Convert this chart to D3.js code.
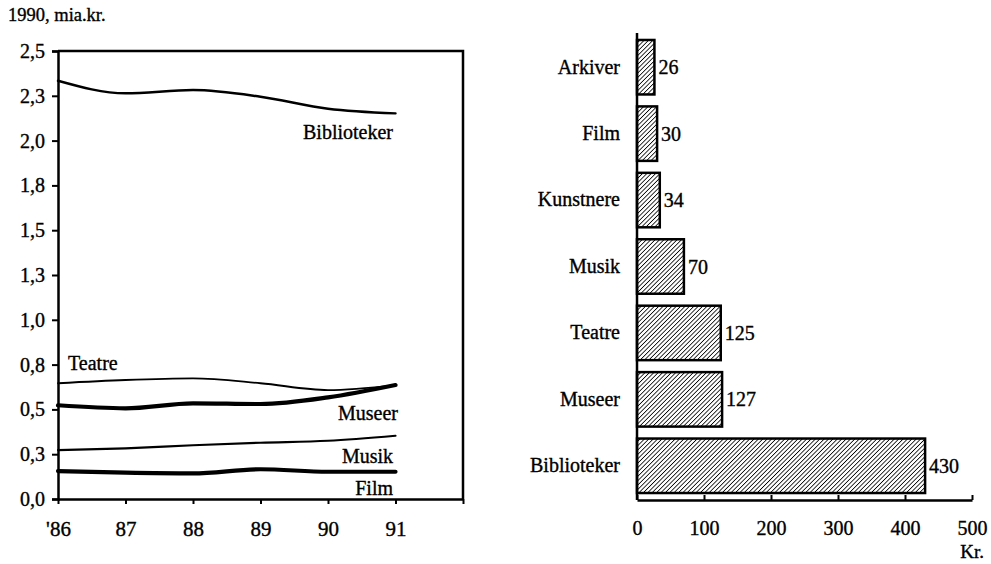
<!DOCTYPE html>
<html>
<head>
<meta charset="utf-8">
<script src="https://cdn.jsdelivr.net/npm/d3@7"></script>
<style>
  body { margin: 0; background: #fff; }
  svg { display: block; }
  text { font-family: "Liberation Serif", "Times New Roman", serif; fill: #000; stroke: #000; stroke-width: 0.35px; }
</style>
</head>
<body>
<div id="chart"></div>
<script>
// left panel data (1990 prices, bn. kr.)
var years = [86, 87, 88, 89, 90, 91];
var yearLabels = ["'86", "87", "88", "89", "90", "91"];
var biblioteker = [2.334, 2.264, 2.282, 2.245, 2.178, 2.152];
var teatre = [0.646, 0.664, 0.673, 0.646, 0.608, 0.636];
var museer = [0.523, 0.506, 0.534, 0.530, 0.567, 0.636];
var musik = [0.273, 0.283, 0.300, 0.314, 0.325, 0.353];
var film = [0.156, 0.147, 0.143, 0.166, 0.152, 0.152];
var yTicks = [0, 0.25, 0.5, 0.75, 1, 1.25, 1.5, 1.75, 2, 2.25, 2.5];
var yTickLabels = ["0,0", "0,3", "0,5", "0,8", "1,0", "1,3", "1,5", "1,8", "2,0", "2,3", "2,5"];

// right panel data (kr.)
var barCats = ["Arkiver", "Film", "Kunstnere", "Musik", "Teatre", "Museer", "Biblioteker"];
var barVals = [26, 30, 34, 70, 125, 127, 430];
var barTicks = [0, 100, 200, 300, 400, 500];

var width = 991, height = 564;

var svg = d3.select("#chart").append("svg")
  .attr("width", width)
  .attr("height", height);

// hatch pattern for bars
var defs = svg.append("defs");
defs.append("pattern")
  .attr("id", "hatch")
  .attr("patternUnits", "userSpaceOnUse")
  .attr("width", 3.1)
  .attr("height", 3.1)
  .attr("patternTransform", "rotate(45)")
  .append("line")
  .attr("x1", 0).attr("y1", 0)
  .attr("x2", 0).attr("y2", 3.1)
  .attr("stroke", "#000")
  .attr("stroke-width", 1.6);

// ---------- left panel ----------
var x = d3.scaleLinear().domain([86, 92]).range([58, 463]);
var y = d3.scaleLinear().domain([0, 2.5]).range([499, 51]);

var left = svg.append("g");

left.append("text")
  .attr("x", 8).attr("y", 21)
  .style("font-size", "18.5px")
  .text("1990, mia.kr.");

// y axis
var yAxis = left.append("g")
  .attr("transform", "translate(58,0)")
  .call(d3.axisLeft(y).tickValues(yTicks).tickSize(6).tickPadding(7)
    .tickFormat(function(d, i) { return yTickLabels[i]; }));
yAxis.select(".domain").attr("stroke-width", 2.5);
yAxis.selectAll(".tick line").attr("stroke-width", 2);
yAxis.selectAll("text").style("font-size", "20px").style("font-family", "Liberation Serif");

// x axis
var xAxis = left.append("g")
  .attr("transform", "translate(0,499)")
  .call(d3.axisBottom(x).tickValues(years.concat([92])).tickSize(5).tickSizeOuter(0).tickPadding(17)
    .tickFormat(function(d, i) { return i < yearLabels.length ? yearLabels[i] : ""; }));
xAxis.select(".domain").attr("stroke-width", 2.5);
xAxis.selectAll(".tick line").attr("stroke-width", 2);
xAxis.selectAll("text").style("font-size", "21px").style("font-family", "Liberation Serif");

// top and right frame
left.append("path")
  .attr("d", "M" + x(86) + "," + y(2.5) + "H" + x(92) + "V" + y(0))
  .attr("fill", "none")
  .attr("stroke", "#000")
  .attr("stroke-width", 2.5);

var series = [
  { name: "Biblioteker", values: biblioteker, w: 2.4 },
  { name: "Teatre", values: teatre, w: 1.8 },
  { name: "Museer", values: museer, w: 4.2 },
  { name: "Musik", values: musik, w: 2.2 },
  { name: "Film", values: film, w: 4.2 }
];

var line = d3.line()
  .x(function(d, i) { return x(years[i]); })
  .y(function(d) { return y(d); })
  .curve(d3.curveMonotoneX);

left.selectAll(".series")
  .data(series)
  .enter().append("path")
  .attr("class", "series")
  .attr("d", function(d) { return line(d.values); })
  .attr("fill", "none")
  .attr("stroke", "#000")
  .attr("stroke-width", function(d) { return d.w; })
  .attr("stroke-linecap", "round");

// series labels
var seriesLabels = [
  { t: "Biblioteker", x: 393, y: 139, a: "end" },
  { t: "Teatre", x: 68, y: 370, a: "start" },
  { t: "Museer", x: 398, y: 420, a: "end" },
  { t: "Musik", x: 393, y: 463, a: "end" },
  { t: "Film", x: 393, y: 495, a: "end" }
];
left.selectAll(".slabel")
  .data(seriesLabels)
  .enter().append("text")
  .attr("class", "slabel")
  .attr("x", function(d) { return d.x; })
  .attr("y", function(d) { return d.y; })
  .attr("text-anchor", function(d) { return d.a; })
  .style("font-size", "20px")
  .text(function(d) { return d.t; });

// ---------- right panel ----------
var bx = d3.scaleLinear().domain([0, 500]).range([637, 972]);
var by = d3.scaleBand().domain(barCats).range([34, 499]).paddingInner(0.18).paddingOuter(0.09);

var right = svg.append("g");

right.selectAll(".bar")
  .data(barVals)
  .enter().append("rect")
  .attr("class", "bar")
  .attr("x", bx(0))
  .attr("y", function(d, i) { return by(barCats[i]); })
  .attr("width", function(d) { return bx(d) - bx(0); })
  .attr("height", by.bandwidth())
  .attr("fill", "url(#hatch)")
  .attr("stroke", "#000")
  .attr("stroke-width", 2.5);

right.selectAll(".val")
  .data(barVals)
  .enter().append("text")
  .attr("class", "val")
  .attr("x", function(d) { return bx(d) + 4; })
  .attr("y", function(d, i) { return by(barCats[i]) + by.bandwidth() / 2; })
  .attr("dy", "0.35em")
  .style("font-size", "20px")
  .text(function(d) { return d; });

// category axis
var catAxis = right.append("g")
  .attr("transform", "translate(" + bx(0) + ",0)")
  .call(d3.axisLeft(by).tickSize(0).tickPadding(17));
catAxis.select(".domain").attr("d", "M0,33V500").attr("stroke-width", 2.5);
catAxis.selectAll("text").style("font-size", "20px").style("font-family", "Liberation Serif");

// value axis
var valAxis = right.append("g")
  .attr("transform", "translate(0,500)")
  .call(d3.axisBottom(bx).tickValues(barTicks).tickSize(-5).tickSizeOuter(0).tickPadding(21)
    .tickFormat(d3.format("d")));
valAxis.select(".domain").attr("stroke-width", 2.5);
valAxis.selectAll(".tick line").attr("stroke-width", 2);
valAxis.selectAll("text").style("font-size", "20px").style("font-family", "Liberation Serif");

right.append("text")
  .attr("x", 984).attr("y", 558)
  .attr("text-anchor", "end")
  .style("font-size", "19px")
  .text("Kr.");
</script>
</body>
</html>
